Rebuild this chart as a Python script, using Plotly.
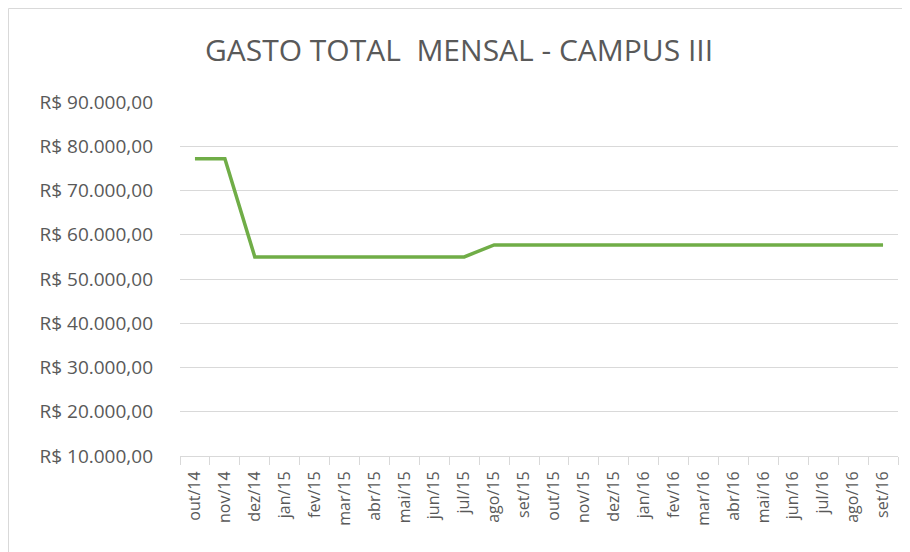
import plotly.graph_objects as go

meses = ["out/14", "nov/14", "dez/14", "jan/15", "fev/15", "mar/15", "abr/15",
         "mai/15", "jun/15", "jul/15", "ago/15", "set/15", "out/15", "nov/15",
         "dez/15", "jan/16", "fev/16", "mar/16", "abr/16", "mai/16", "jun/16",
         "jul/16", "ago/16", "set/16"]
gasto = [77200, 77200, 55000, 55000, 55000, 55000, 55000,
         55000, 55000, 55000, 57700, 57700, 57700, 57700,
         57700, 57700, 57700, 57700, 57700, 57700, 57700,
         57700, 57700, 57700]
y_ticks = [10000, 20000, 30000, 40000, 50000, 60000, 70000, 80000, 90000]
y_labels = ["R$ " + f"{v:,.2f}".replace(",", "X").replace(".", ",").replace("X", ".") for v in y_ticks]

FONT = "Open Sans, Noto Sans, sans-serif"
GRAY = "#595959"

# page body adds 8px offset, so the figure is 8px smaller than the window
W, H = 902, 544
L, T, R, B = 172, 94, 12, 96

fig = go.Figure()
fig.add_trace(go.Scatter(
    x=meses, y=gasto, mode="lines",
    line=dict(color="#70AD47", width=3.5),
    showlegend=False,
))

pw, ph = W - L - R, H - T - B
fig.update_layout(
    width=W, height=H,
    paper_bgcolor="white", plot_bgcolor="white",
    margin=dict(l=L, r=R, t=T, b=B),
    title=dict(text="GASTO TOTAL  MENSAL - CAMPUS III", x=0.5, xanchor="center",
               y=1 - 42 / H, yanchor="middle",
               font=dict(family=FONT, size=30, color=GRAY)),
    font=dict(family=FONT, color=GRAY),
    xaxis=dict(
        type="category", tickangle=-90, tickfont=dict(size=16, color=GRAY),
        showgrid=False, showline=True, linecolor="#d9d9d9", linewidth=1,
        ticks="outside", ticklen=8, tickcolor="#d9d9d9", tickson="boundaries",
        ticklabelstandoff=8, range=[-0.5, len(meses) - 0.5],
    ),
    yaxis=dict(
        range=[10000, 90000], tickvals=y_ticks, ticktext=y_labels,
        tickfont=dict(size=19, color=GRAY), showgrid=True, gridcolor="#d9d9d9",
        zeroline=False, showline=False, ticks="", ticklabelstandoff=26,
    ),
    shapes=[dict(type="rect", xref="paper", yref="paper",
                 x0=-(L - 0.5) / pw, x1=1 + (R + 20) / pw,
                 y0=-(B + 20) / ph, y1=1 + (T - 0.5) / ph,
                 line=dict(color="#d9d9d9", width=1), layer="below")],
)

fig.write_html("out.html")
